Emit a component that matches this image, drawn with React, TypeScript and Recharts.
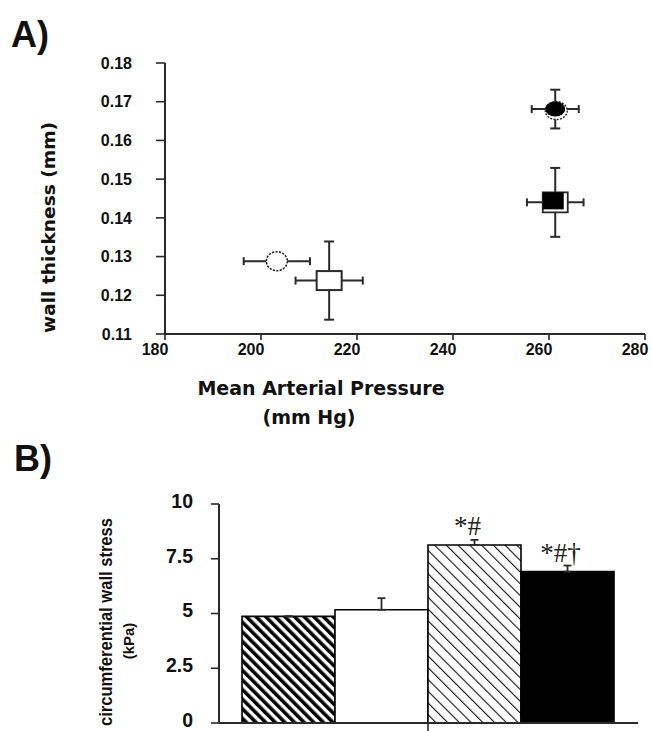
import React from 'react';
import {
  ScatterChart,
  Scatter,
  XAxis,
  YAxis,
  ErrorBar,
  BarChart,
  Bar,
  Cell,
  LabelList,
} from 'recharts';

// ---------- Panel A data ----------
const mapTicks = [180, 200, 220, 240, 260, 280];
const wallTicks = [0.11, 0.12, 0.13, 0.14, 0.15, 0.16, 0.17, 0.18];

const openCirclePts = [{ x: 203.3, y: 0.1288, ex: 6.9, ey: 0 }];
const openSquarePts = [{ x: 214.2, y: 0.1238, ex: 7.0, ey: 0.0101 }];
const filledCirclePts = [{ x: 261.3, y: 0.1681, ex: 4.9, ey: 0.005 }];
const filledSquarePts = [{ x: 261.3, y: 0.144, ex: 5.9, ey: 0.0089 }];

// ---------- Panel B data ----------
const groups = ['G1', 'G2', 'G3', 'G4'];
const stressValues = [4.87, 5.17, 8.13, 6.91];
const stressErrors = [0, 0.53, 0.23, 0.28];
const sigMarks = ['', '', '*#', '*#\u2020'];
const stressTicks = [0, 2.5, 5, 7.5, 10];
const barFills = ['url(#thickHatch)', '#ffffff', 'url(#thinHatch)', '#000000'];

const barData = groups.map((g, i) => ({
  group: g,
  value: stressValues[i],
  err: [0, stressErrors[i]],
  sig: sigMarks[i],
}));

const INK = '#2a2a2a';
const SANS = '"Liberation Sans", Arial, sans-serif';
const VERD = '"DejaVu Sans", Verdana, sans-serif';

// ---------- Marker shapes ----------
const OpenCircle = (p: any) => (
  <ellipse cx={p.cx} cy={p.cy} rx={10.5} ry={9.5} fill="#fff" stroke={INK} strokeWidth={1.6} strokeDasharray="2.2 1.3" />
);
const OpenSquare = (p: any) => (
  <rect x={p.cx - 12.5} y={p.cy - 9.5} width={25} height={19} fill="#fff" stroke={INK} strokeWidth={2} />
);
const FilledCircle = (p: any) => (
  <g>
    <ellipse cx={p.cx + 1} cy={p.cy + 1.5} rx={11} ry={9} fill="#fff" stroke={INK} strokeWidth={1.4} strokeDasharray="2 1.3" />
    <ellipse cx={p.cx} cy={p.cy} rx={10} ry={7.5} fill="#000" />
  </g>
);
const FilledSquare = (p: any) => (
  <g>
    <rect x={p.cx - 12.5} y={p.cy - 10} width={25} height={20} fill="#fff" stroke={INK} strokeWidth={1.8} />
    <rect x={p.cx - 12.5} y={p.cy - 10} width={21} height={17} fill="#000" />
  </g>
);

// ---------- Axis labels ----------
const WallLabel = () => (
  <text
    transform="translate(55,227.5) rotate(-90)"
    textAnchor="middle"
    fontFamily={VERD}
    fontWeight="bold"
    fontSize={18.5}
    fill="#111"
    textLength={211}
    lengthAdjust="spacingAndGlyphs"
  >
    wall thickness (mm)
  </text>
);

const MapLabel = () => (
  <g fontFamily={VERD} fontWeight="bold" fontSize={19} fill="#111" textAnchor="middle">
    <text x={321} y={395}>Mean Arterial Pressure</text>
    <text x={309} y={424}>(mm Hg)</text>
  </g>
);

const StressLabel = () => (
  <g fontFamily={SANS} fontWeight="bold" fill="#111" textAnchor="middle">
    <text
      transform="translate(112,182) rotate(-90)"
      fontSize={17.5}
      textLength={208}
      lengthAdjust="spacingAndGlyphs"
    >
      circumferential wall stress
    </text>
    <text transform="translate(134,201) rotate(-90)" fontSize={15}>
      (kPa)
    </text>
  </g>
);

// ---------- Panel B helpers ----------
const PLOT_B_LEFT = 219;
const PLOT_B_RIGHT = 652 - 14;
const PAD_L = 23;
const PAD_R = 24;
const BAND_HALF = (PLOT_B_RIGHT - PLOT_B_LEFT - PAD_L - PAD_R) / groups.length / 2;

const BoundaryTick = (props: any) => {
  const { x, y, index } = props;
  if (index !== 2) return <g />;
  return (
    <line x1={x - BAND_HALF} x2={x - BAND_HALF} y1={y} y2={y + 10} stroke={INK} strokeWidth={1.6} />
  );
};

const SigLabel = (props: any) => {
  const { x, y, width, value } = props;
  if (!value) return null;
  return (
    <text
      x={x + width / 2 - 7}
      y={y - 10}
      textAnchor="middle"
      fontFamily='"Liberation Serif", "Times New Roman", serif'
      fontSize={27}
      fill="#222"
    >
      {value}
    </text>
  );
};

export default function App() {
  return (
    <div style={{ position: 'absolute', left: 0, top: 0, width: 652, height: 731, background: '#fff', overflow: 'hidden' }}>
      <svg width={652} height={731} style={{ position: 'absolute', left: 0, top: 0 }}>
        <text x={11} y={47} fontFamily={SANS} fontWeight="bold" fontSize={36} fill="#111">A)</text>
        <text x={14} y={471} fontFamily={SANS} fontWeight="bold" fontSize={36} fill="#111">B)</text>
      </svg>

      <div style={{ position: 'absolute', left: 0, top: 0 }}>
        <ScatterChart width={652} height={440} margin={{ top: 63, right: 7, bottom: 26, left: 65 }}>
          <XAxis
            type="number"
            dataKey="x"
            domain={[180, 280]}
            ticks={mapTicks}
            interval={0}
            height={80}
            tickSize={6}
            tickMargin={4}
            axisLine={{ stroke: INK, strokeWidth: 2 }}
            tickLine={{ stroke: INK, strokeWidth: 1.6 }}
            tick={{ fill: '#111', fontSize: 16, fontWeight: 'bold', fontFamily: SANS, dx: -10 }}
            label={<MapLabel />}
          />
          <YAxis
            type="number"
            dataKey="y"
            domain={[0.11, 0.18]}
            ticks={wallTicks}
            interval={0}
            width={100}
            tickSize={9}
            tickMargin={24}
            tickFormatter={(v: number) => v.toFixed(2)}
            axisLine={{ stroke: INK, strokeWidth: 2 }}
            tickLine={{ stroke: INK, strokeWidth: 1.6 }}
            tick={{ fill: '#111', fontSize: 16, fontWeight: 'bold', fontFamily: SANS }}
            label={<WallLabel />}
          />
          <Scatter data={openCirclePts} shape={OpenCircle} isAnimationActive={false}>
            <ErrorBar dataKey="ex" direction="x" width={4} stroke={INK} strokeWidth={2} />
            <ErrorBar dataKey="ey" direction="y" width={4} stroke={INK} strokeWidth={2} />
          </Scatter>
          <Scatter data={openSquarePts} shape={OpenSquare} isAnimationActive={false}>
            <ErrorBar dataKey="ex" direction="x" width={4} stroke={INK} strokeWidth={2} />
            <ErrorBar dataKey="ey" direction="y" width={5} stroke={INK} strokeWidth={2} />
          </Scatter>
          <Scatter data={filledCirclePts} shape={FilledCircle} isAnimationActive={false}>
            <ErrorBar dataKey="ex" direction="x" width={4} stroke={INK} strokeWidth={2} />
            <ErrorBar dataKey="ey" direction="y" width={5} stroke={INK} strokeWidth={2} />
          </Scatter>
          <Scatter data={filledSquarePts} shape={FilledSquare} isAnimationActive={false}>
            <ErrorBar dataKey="ex" direction="x" width={4} stroke={INK} strokeWidth={2} />
            <ErrorBar dataKey="ey" direction="y" width={5} stroke={INK} strokeWidth={2} />
          </Scatter>
        </ScatterChart>
      </div>

      <div style={{ position: 'absolute', left: 0, top: 440 }}>
        <BarChart
          width={652}
          height={291}
          data={barData}
          margin={{ top: 64, right: 14, bottom: 0, left: 99 }}
          barCategoryGap={0}
          barGap={0}
        >
          <defs>
            <pattern id="thickHatch" patternUnits="userSpaceOnUse" width={6.8} height={6.8} patternTransform="rotate(-45)">
              <rect x={0} y={0} width={6.8} height={6.8} fill="#fff" />
              <rect x={0} y={0} width={3.5} height={6.8} fill="#000" />
            </pattern>
            <pattern id="thinHatch" patternUnits="userSpaceOnUse" width={8.3} height={8.3} patternTransform="rotate(-45)">
              <rect x={0} y={0} width={8.3} height={8.3} fill="#fff" />
              <rect x={0} y={0} width={1.1} height={8.3} fill="#111" />
            </pattern>
          </defs>
          <XAxis
            dataKey="group"
            type="category"
            height={8}
            padding={{ left: PAD_L, right: PAD_R }}
            tickSize={0}
            tickMargin={0}
            tickLine={false}
            axisLine={{ stroke: INK, strokeWidth: 2 }}
            tick={<BoundaryTick />}
            interval={0}
          />
          <YAxis
            type="number"
            domain={[0, 10]}
            ticks={stressTicks}
            interval={0}
            width={120}
            tickSize={8}
            tickMargin={18}
            axisLine={{ stroke: INK, strokeWidth: 2 }}
            tickLine={{ stroke: INK, strokeWidth: 1.6 }}
            tick={{ fill: '#111', fontSize: 19.5, fontWeight: 'bold', fontFamily: SANS, dy: -3 }}
            label={<StressLabel />}
          />
          <Bar dataKey="value" isAnimationActive={false} stroke="#000" strokeWidth={1.6}>
            {barData.map((d, i) => (
              <Cell key={d.group} fill={barFills[i]} stroke="#000" strokeWidth={1.6} />
            ))}
            <ErrorBar dataKey="err" direction="y" width={4} stroke={INK} strokeWidth={1.8} />
            <LabelList dataKey="sig" content={<SigLabel />} />
          </Bar>
        </BarChart>
      </div>
    </div>
  );
}
